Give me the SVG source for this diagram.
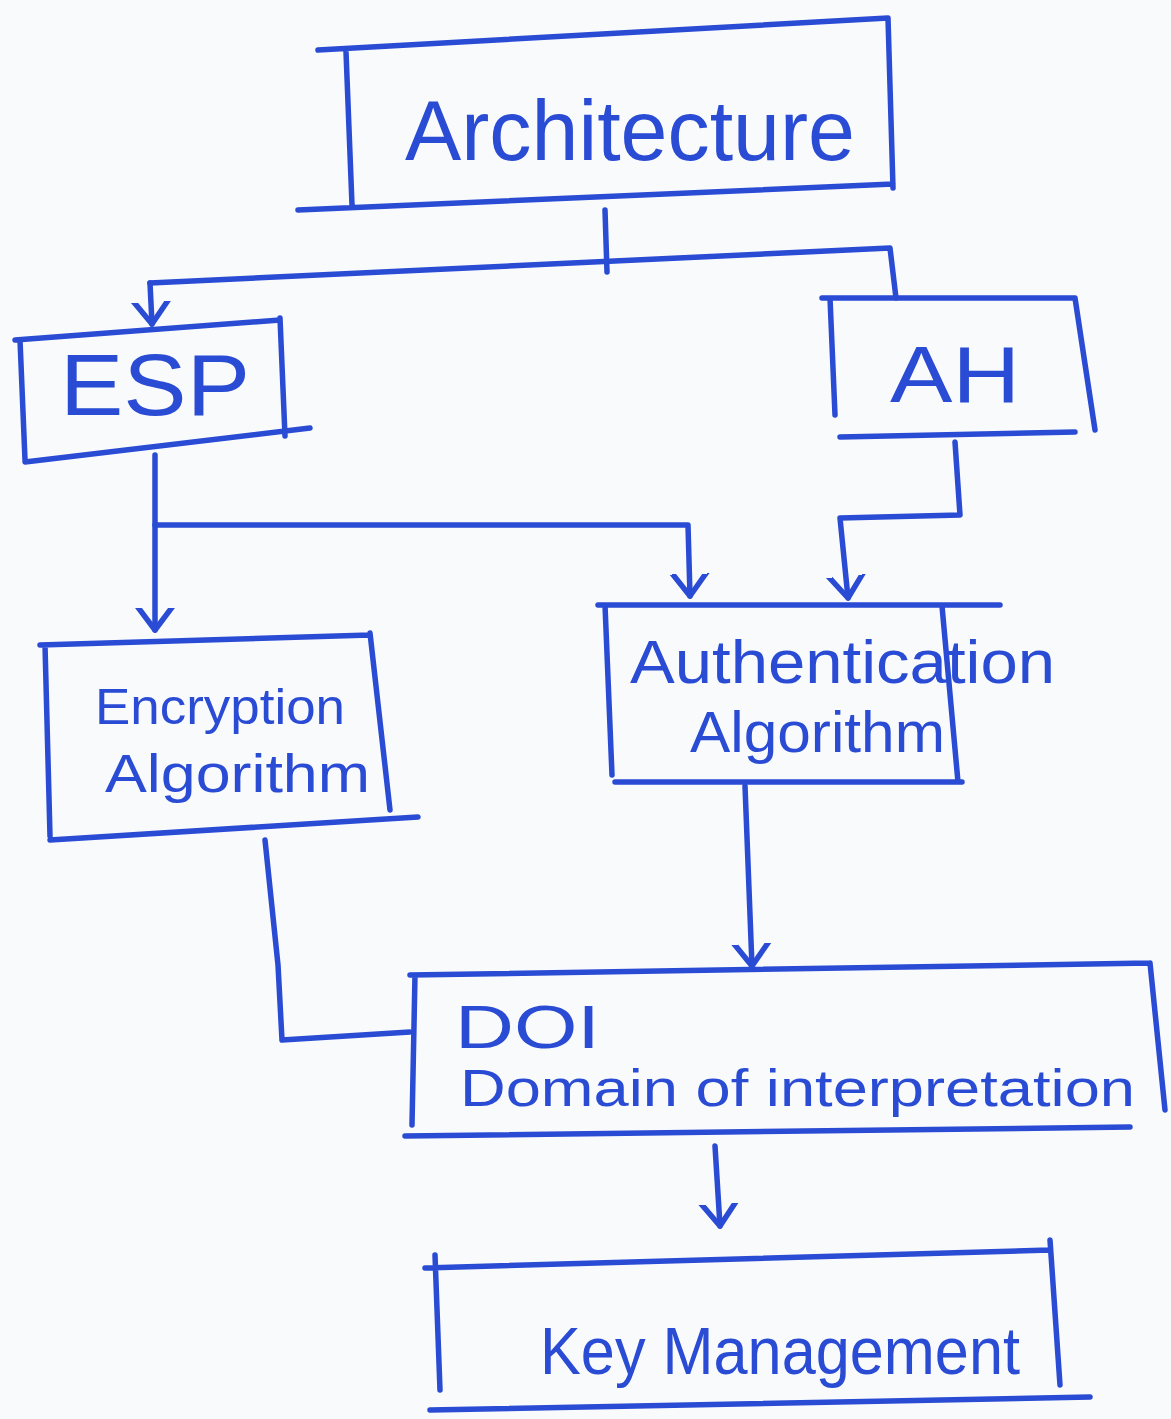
<svg xmlns="http://www.w3.org/2000/svg" width="1171" height="1419" viewBox="0 0 1171 1419">
<defs>
<style>
.ink{fill:none;stroke:#2a4bd4;stroke-width:5.5;stroke-linecap:round;stroke-linejoin:round}
.lbl{font-family:"Liberation Sans","DejaVu Sans",sans-serif;fill:#2a4bd4}
</style>
<marker id="v" viewBox="-22 -22 44 44" markerWidth="44" markerHeight="44" markerUnits="userSpaceOnUse" orient="auto" refX="0" refY="0">
<path d="M-24,-18 L0,0 L-24,18" fill="none" stroke="#2a4bd4" stroke-width="5.5" stroke-linecap="round" stroke-linejoin="round"/>
</marker>
</defs>
<rect width="1171" height="1419" fill="#f9fafc"/>
<g id="architecture">
<path class="ink" d="M318,50 L888,18 M346,52 L352,205 M888,18 L893,188 M298,210 L893,184"/>
<text class="lbl" x="405" y="160" font-size="86" textLength="450" lengthAdjust="spacingAndGlyphs">Architecture</text>
</g>
<g id="esp">
<path class="ink" d="M15,340 L280,320 M20,340 L25,460 M280,318 L285,436 M25,462 L310,428"/>
<text class="lbl" x="60" y="415" font-size="88" textLength="190" lengthAdjust="spacingAndGlyphs">ESP</text>
</g>
<g id="ah">
<path class="ink" d="M822,298 L1075,298 M830,298 L835,415 M1075,298 L1095,430 M840,437 L1075,432"/>
<text class="lbl" x="890" y="402" font-size="80" textLength="130" lengthAdjust="spacingAndGlyphs">AH</text>
</g>
<g id="encryption">
<path class="ink" d="M40,645 L370,635 M45,645 L50,836 M370,633 L390,810 M50,840 L418,817"/>
<text class="lbl" x="95" y="724" font-size="50" textLength="250" lengthAdjust="spacingAndGlyphs">Encryption</text>
<text class="lbl" x="105" y="792" font-size="54" textLength="265" lengthAdjust="spacingAndGlyphs">Algorithm</text>
</g>
<g id="authentication">
<path class="ink" d="M598,605 L1000,605 M605,605 L612,775 M942,606 L958,782 M615,782 L962,782"/>
<text class="lbl" x="630" y="683" font-size="62" textLength="425" lengthAdjust="spacingAndGlyphs">Authentication</text>
<text class="lbl" x="690" y="752" font-size="58" textLength="255" lengthAdjust="spacingAndGlyphs">Algorithm</text>
</g>
<g id="doi">
<path class="ink" d="M410,975 L1150,963 M415,975 L412,1125 M1150,963 L1165,1110 M405,1136 L1130,1127"/>
<text class="lbl" x="455" y="1048" font-size="62" textLength="145" lengthAdjust="spacingAndGlyphs">DOI</text>
<text class="lbl" x="460" y="1106" font-size="52" textLength="675" lengthAdjust="spacingAndGlyphs">Domain of interpretation</text>
</g>
<g id="key-management">
<path class="ink" d="M425,1268 L1050,1250 M435,1255 L440,1390 M1050,1240 L1060,1385 M430,1410 L1090,1397"/>
<text class="lbl" x="540" y="1374" font-size="66" textLength="480" lengthAdjust="spacingAndGlyphs">Key Management</text>
</g>
<g id="connectors">
<path class="ink" d="M605,210 L607,272"/>
<path class="ink" d="M150,283 L890,248 L896,298"/>
<path class="ink" d="M150,283 L152,324" marker-end="url(#v)"/>
<path class="ink" d="M155,455 L155,630" marker-end="url(#v)"/>
<path class="ink" d="M155,525 L688,525 L690,596" marker-end="url(#v)"/>
<path class="ink" d="M955,442 L960,515 L840,518 L848,598" marker-end="url(#v)"/>
<path class="ink" d="M745,786 L752,966" marker-end="url(#v)"/>
<path class="ink" d="M265,840 L278,965 L282,1040 L410,1032"/>
<path class="ink" d="M715,1146 L720,1226" marker-end="url(#v)"/>
</g>
</svg>
